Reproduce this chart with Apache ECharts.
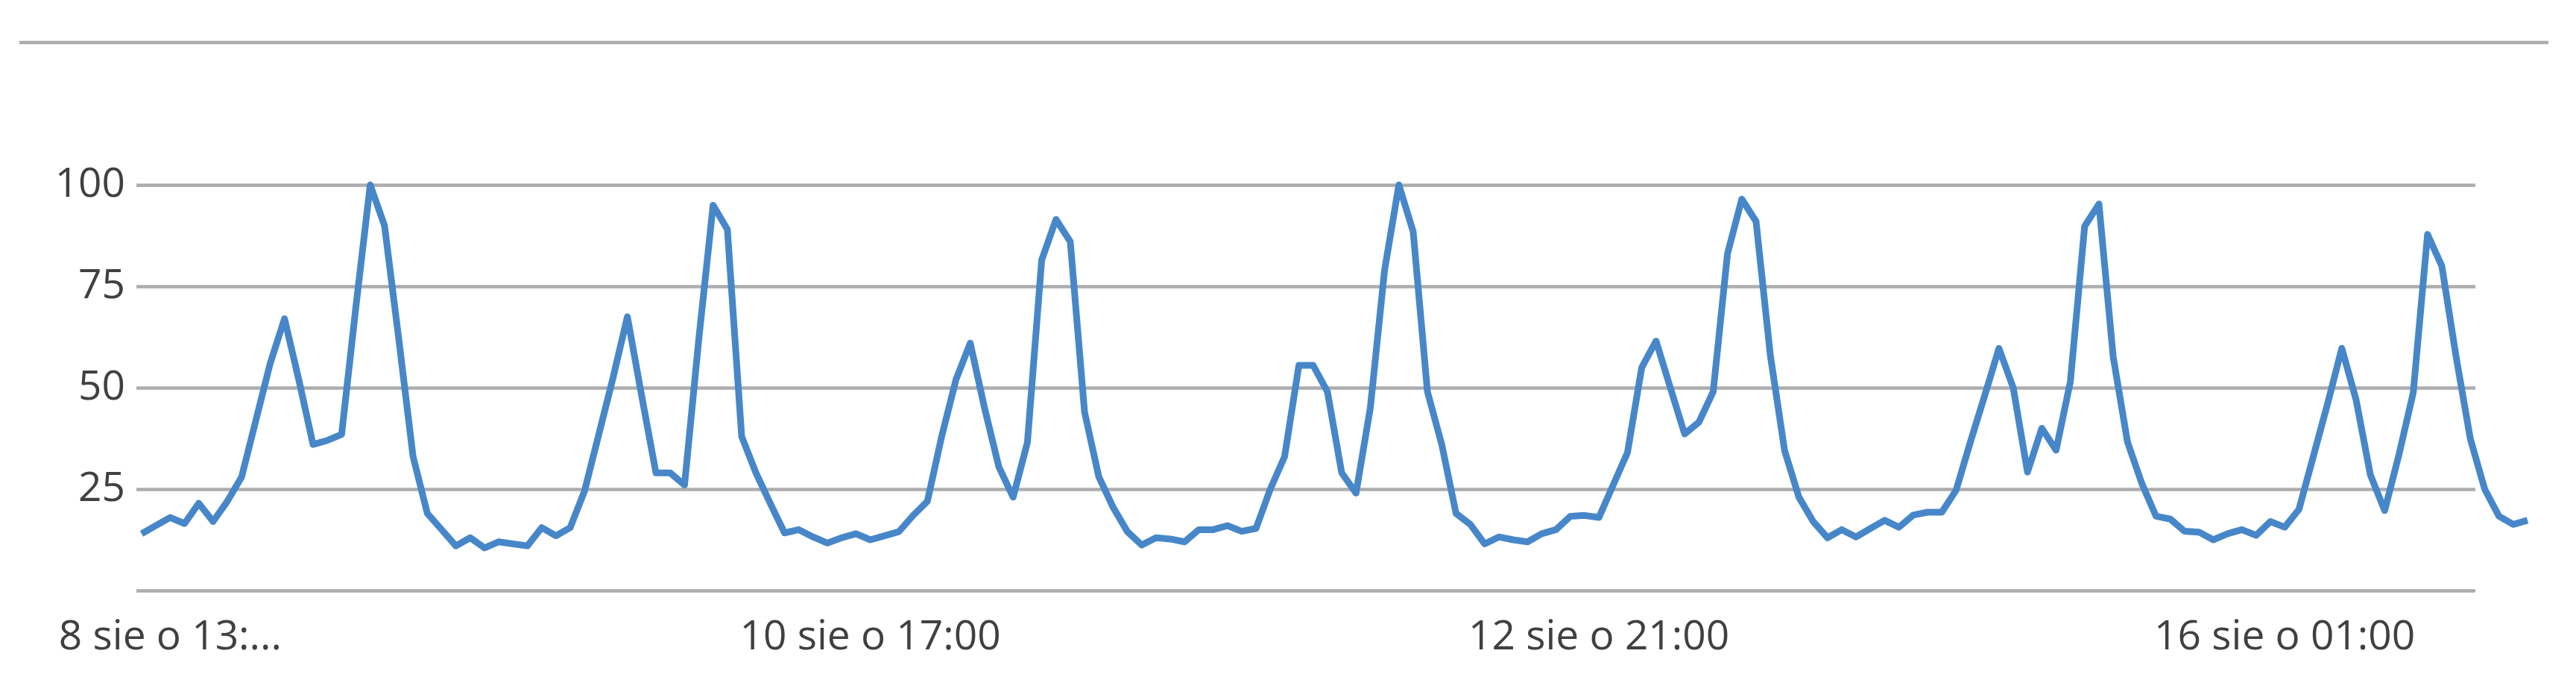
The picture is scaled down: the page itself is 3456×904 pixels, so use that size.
<!DOCTYPE html>
<html>
<head>
<meta charset="utf-8">
<script src="https://cdn.jsdelivr.net/npm/echarts@6/dist/echarts.min.js"></script>
<style>
  html, body { margin: 0; padding: 0; background: #ffffff; }
  #chart { width: 3456px; height: 904px; }
</style>
</head>
<body>
<div id="chart"></div>
<script>
// Series values (hourly interest, 0-100)
const values = [
  14, 16, 18, 16.5, 21.5, 17, 22, 28, 42, 56,
  67, 52, 36, 37, 38.5, 70, 100, 90, 62, 33,
  19, 15, 11, 13, 10.5, 12, 11.5, 11, 15.5, 13.5,
  15.5, 24.5, 38.5, 52.5, 67.5, 48, 29, 29, 26, 62,
  95, 89, 38, 29, 21.5, 14.2, 15, 13.2, 11.7, 13,
  14, 12.5, 13.5, 14.5, 18.5, 22, 38, 52, 61, 45,
  30.5, 23, 36.5, 81.5, 91.5, 86, 44, 28, 20.5, 14.5,
  11.2, 13, 12.7, 12, 15, 15, 16, 14.6, 15.3, 25,
  33, 55.5, 55.5, 49, 29, 24, 45, 79, 100, 88.5,
  49, 36, 19, 16.3, 11.5, 13.2, 12.5, 12, 14, 15,
  18.3, 18.5, 18, 26, 34, 55, 61.5, 50, 38.6, 41.5,
  49, 83, 96.5, 91, 58, 34.5, 23, 17, 13, 15,
  13.2, 15.3, 17.3, 15.6, 18.6, 19.3, 19.3, 24.7, 36.6, 48,
  59.7, 50, 29.2, 40, 34.6, 51.5, 89.8, 95.3, 57.6, 36.6,
  26.4, 18.3, 17.6, 14.6, 14.4, 12.5, 14, 15, 13.6, 17,
  15.6, 20, 33, 46, 59.7, 47, 28.5, 19.7, 33.5, 48.8,
  87.8, 80, 57.6, 37.3, 25, 18.3, 16.3, 17.3
];
// Categories: one per data point
const categories = values.map((_, i) => String(i));
// X tick labels and the data indices where they sit
const tickIndex = [2, 51, 102, 150];
const tickLabels = ["8 sie o 13:...", "10 sie o 17:00", "12 sie o 21:00", "16 sie o 01:00"];
// Y axis ticks
const yMin = 0, yMax = 100, yStep = 25;

const FONT = '"Open Sans", "Noto Sans", sans-serif';
const TEXT = '#404040';
const GRIDC = '#adadad';

const chart = echarts.init(document.getElementById('chart'), null, { renderer: 'canvas' });
chart.setOption({
  backgroundColor: '#ffffff',
  animation: false,
  graphic: [{
    type: 'line',
    shape: { x1: 26, y1: 57, x2: 3419, y2: 57 },
    style: { stroke: GRIDC, lineWidth: 4.5 }
  }],
  grid: [
    { left: 183, right: 135, top: 248, bottom: 112 },
    { left: 190, right: 65, top: 248, bottom: 112 }
  ],
  xAxis: [
    { gridIndex: 0, type: 'category', data: categories, show: false, boundaryGap: false },
    {
      gridIndex: 1, type: 'category', data: categories, boundaryGap: false,
      axisLine: { show: false }, axisTick: { show: false }, splitLine: { show: false },
      axisLabel: {
        interval: (idx) => tickIndex.indexOf(idx) >= 0,
        formatter: (val, idx) => { const k = tickIndex.indexOf(idx); return k >= 0 ? tickLabels[k] : ''; },
        fontFamily: FONT, fontSize: 55, color: TEXT, margin: 36,
        align: 'center', verticalAlign: 'top'
      }
    }
  ],
  yAxis: [
    {
      gridIndex: 0, type: 'value', min: yMin, max: yMax, interval: yStep,
      axisLine: { show: false }, axisTick: { show: false },
      splitLine: { show: true, lineStyle: { color: GRIDC, width: 4.5 } },
      axisLabel: { showMinLabel: false, fontFamily: FONT, fontSize: 55, color: TEXT, margin: 15, align: 'right', verticalAlign: 'middle' }
    },
    {
      gridIndex: 1, type: 'value', min: yMin, max: yMax, interval: yStep, show: false,
      splitLine: { show: false }
    }
  ],
  series: [{
    type: 'line',
    xAxisIndex: 1, yAxisIndex: 1,
    data: values,
    symbol: 'none',
    clip: false,
    lineStyle: { color: '#4787c9', width: 9, join: 'round' }
  }]
});
</script>
</body>
</html>
